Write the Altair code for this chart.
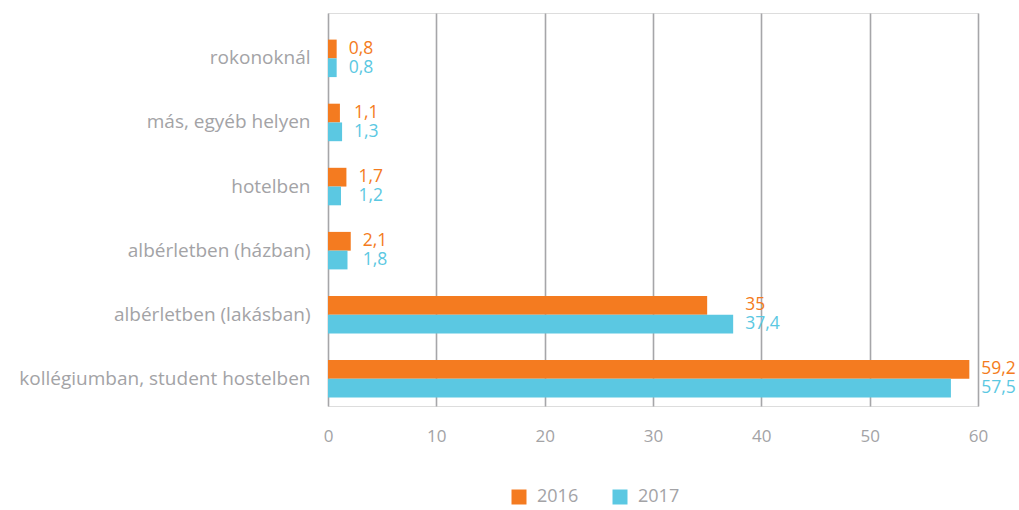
import altair as alt
import pandas as pd

categories = ["rokonoknál", "más, egyéb helyen", "hotelben", "albérletben (házban)",
              "albérletben (lakásban)", "kollégiumban, student hostelben"]
years = ["2016", "2017"]
v2016 = [0.8, 1.1, 1.7, 2.1, 35, 59.2]
v2017 = [0.8, 1.3, 1.2, 1.8, 37.4, 57.5]
colors = ["#F47B20", "#5BC8E2"]
x_ticks = [0, 10, 20, 30, 40, 50, 60]

rows = []
for c, a, b in zip(categories, v2016, v2017):
    for y, v in zip(years, (a, b)):
        lab = (f"{v:g}").replace(".", ",")
        rows.append({"cat": c, "year": y, "value": v, "label": lab})
df = pd.DataFrame(rows)

FONT = "Open Sans"
GRAY = "#a3a3a6"

ycat = alt.Y("cat:N", sort=categories, title=None,
             scale=alt.Scale(paddingInner=0.415, paddingOuter=0.273, align=0.76),
             axis=alt.Axis(domain=False, ticks=False, labelPadding=18, labelFontSize=19,
                           labelColor=GRAY, labelFont=FONT, labelLimit=400))
color = alt.Color("year:N", scale=alt.Scale(domain=years, range=colors),
                  legend=alt.Legend(title=None, orient="none", direction="horizontal",
                                    legendX=182, legendY=475, symbolType="square",
                                    symbolSize=225, symbolStrokeWidth=0,
                                    labelFontSize=18,
                                    labelColor=GRAY, labelFont=FONT,
                                    columnPadding=32, labelOffset=9))

base = alt.Chart(df)

bars = base.mark_bar().encode(
    y=ycat,
    yOffset=alt.YOffset("year:N", sort=years),
    x=alt.X("value:Q", title=None,
            scale=alt.Scale(domain=[0, 60], nice=False),
            axis=alt.Axis(values=x_ticks, domain=False, ticks=False, labelPadding=22,
                          labelFontSize=17, labelFlush=False,
                          labelColor=GRAY, labelFont=FONT,
                          grid=True, gridColor="#a6a6a9", gridWidth=1.6)),
    color=color,
)

texts = base.transform_joinaggregate(
    mx="max(value)", groupby=["cat"]
).mark_text(align="left", baseline="middle", dx=12, fontSize=17.5,
            font=FONT).encode(
    y=alt.Y("cat:N", sort=categories),
    yOffset=alt.YOffset("year:N", sort=years),
    x=alt.X("mx:Q"),
    text="label:N",
    color=alt.Color("year:N", scale=alt.Scale(domain=years, range=colors), legend=None),
)

chart = alt.layer(bars, texts).properties(
    width=650, height=393,
    autosize=alt.AutoSizeParams(type="none"),
    padding={"left": 328, "top": 13, "right": 41, "bottom": 104},
).configure_view(stroke=None).configure(background="white")

chart.save("out.html", embed_options={"renderer": "svg", "actions": False})
